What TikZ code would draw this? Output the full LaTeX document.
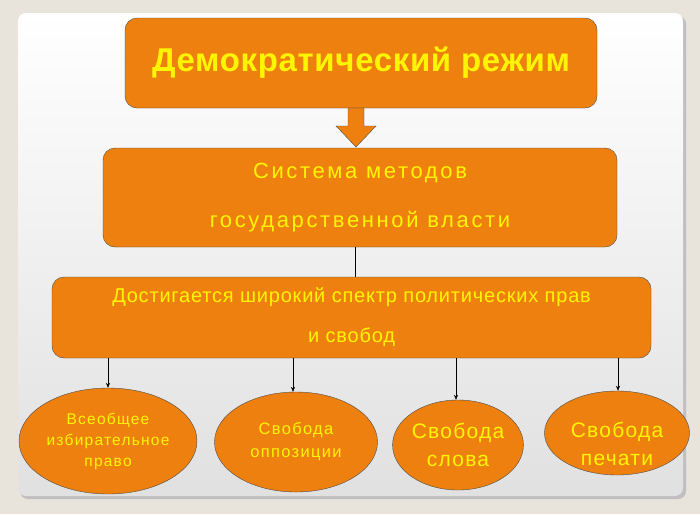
\documentclass[tikz,border=0pt]{standalone}
\usepackage{fontspec}
\setmainfont{Liberation Sans}
\usetikzlibrary{shapes.geometric,arrows.meta}
\definecolor{org}{RGB}{238,128,15}
\definecolor{ylw}{RGB}{255,245,0}
\definecolor{bg}{RGB}{232,228,220}
\newcommand{\ls}[1]{\addfontfeature{LetterSpace=#1}}
\begin{document}
\begin{tikzpicture}[x=1pt,y=-1pt,
  box/.style={draw=black!70,fill=org,rounded corners=12pt,text=ylw,align=center,inner sep=0},
  ell/.style={draw=black!70,fill=org,ellipse,text=ylw,align=center,inner sep=0},
  txt/.style={text=ylw,align=center,inner sep=0},
  con/.style={-{Stealth[length=5pt,width=4pt]},thin}]
\fill[bg] (0,0) rectangle (700,514);
\useasboundingbox (0,0) rectangle (700,514);
\fill[black!25,rounded corners=8pt] (20,16) rectangle (686,499);
\shade[top color=white,bottom color=black!12,rounded corners=8pt] (18,13) rectangle (683,496);
\node[box,minimum width=472pt,minimum height=90pt,font=\bfseries\fontsize{33}{38}\selectfont\ls{2}] (t) at (361,63) {Демократический режим};
\node[box,minimum width=514pt,minimum height=99pt,font=\fontsize{22}{49}\selectfont\ls{12}] (s) at (360,197.5) {Система методов\\государственной власти};
\node[box,minimum width=599pt,minimum height=81pt,font=\fontsize{20}{40}\selectfont\ls{4}] (d) at (351.5,317.5) {Достигается широкий спектр политических прав\\и свобод};
\draw[draw=black!70,fill=org] (348,108) -- (364,108) -- (364,126) -- (376,126) -- (356,147) -- (336,126) -- (348,126) -- cycle;
\draw[black] (355,247) -- (355,277);
\node[ell,minimum width=178pt,minimum height=106pt,font=\fontsize{15.5}{21}\selectfont\ls{8}] (e1) at (108,441) {Всеобщее\\избирательное\\право};
\node[ell,minimum width=163pt,minimum height=100pt,font=\fontsize{16.5}{23}\selectfont\ls{8}] (e2) at (296,442) {Свобода\\оппозиции};
\node[ell,minimum width=130pt,minimum height=90pt,font=\fontsize{21}{28}\selectfont\ls{6}] (e3) at (458,445) {Свобода\\слова};
\node[ell,minimum width=145pt,minimum height=84pt] (e4) at (617,433) {};
\node[txt,font=\fontsize{21}{28}\selectfont\ls{6}] (e4t) at (617,444) {Свобода\\печати};
\coordinate (a1) at (108,358); \coordinate (a2) at (293,358);
\coordinate (a3) at (456,358); \coordinate (a4) at (618,358);
\draw[con] (a1) -- (e1.north);
\draw[con] (a2) -- (e2.north -| a2);
\draw[con] (a3) -- (e3.north -| a3);
\draw[con] (a4) -- (e4.north -| a4);
\end{tikzpicture}
\end{document}
